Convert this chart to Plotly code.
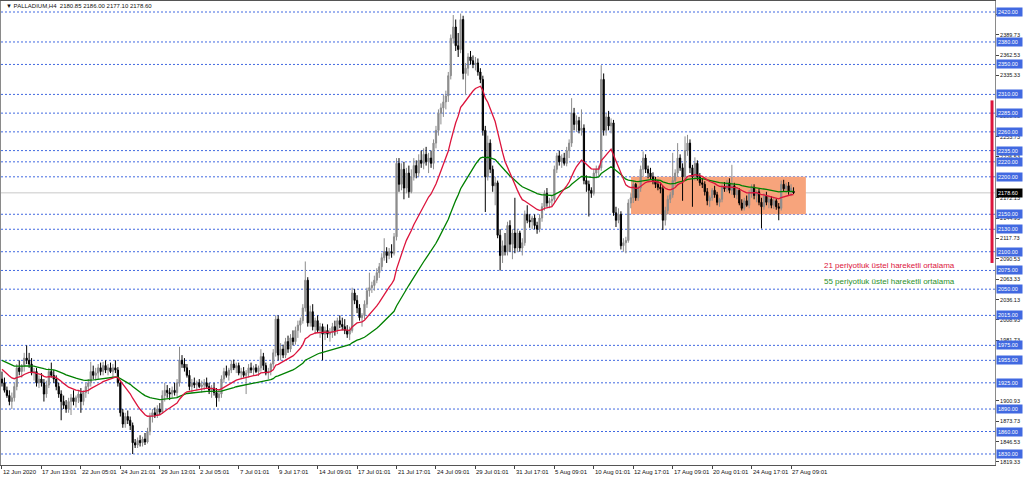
import plotly.graph_objects as go

# ---------------- data (PALLADIUM H4) ----------------
opens = [
1930,1925,1915,1908,1900,1905,1920,1945,1940,1948,
1958,1955,1950,1938,1940,1925,1930,1925,1910,1922,
1940,1935,1930,1920,1910,1900,1895,1890,1900,1905,
1900,1905,1910,1900,1912,1920,1925,1940,1935,1938,
1945,1940,1948,1942,1945,1940,1945,1942,1925,1885,
1870,1880,1875,1868,1845,1842,1848,1845,1850,1846,
1860,1880,1885,1882,1890,1886,1908,1915,1912,1910,
1915,1912,1925,1955,1950,1945,1935,1920,1925,1922,
1925,1920,1922,1925,1920,1915,1918,1912,1905,1910,
1930,1940,1935,1942,1950,1945,1948,1938,1940,1935,
1938,1945,1942,1945,1940,1945,1960,1948,1938,1940,
1950,1965,2010,1962,1970,1962,1980,1970,1985,1980,
1995,2002,2008,2025,2062,2005,2020,2000,2008,1995,
2000,1990,1995,1990,1992,2000,1995,2008,2003,2000,
1995,1990,1995,2045,2035,2025,2012,2015,2030,2048,
2052,2055,2062,2072,2080,2092,2100,2095,2100,2098,
2120,2218,2190,2210,2185,2205,2180,2200,2215,2205,
2222,2218,2230,2220,2225,2218,2245,2262,2285,2292,
2300,2308,2335,2385,2400,2375,2370,2410,2338,2345,
2360,2355,2350,2352,2340,2330,2262,2200,2245,2210,
2188,2192,2122,2095,2108,2100,2135,2110,2125,2105,
2125,2105,2112,2150,2142,2140,2145,2135,2130,2145,
2160,2178,2165,2168,2170,2210,2228,2220,2225,2218,
2235,2245,2285,2270,2275,2262,2265,2195,2190,2182,
2178,2205,2210,2212,2330,2262,2280,2268,2272,2152,
2142,2150,2108,2112,2115,2165,2172,2190,2172,2185,
2210,2225,2210,2205,2200,2195,2190,2186,2184,2142,
2155,2170,2176,2195,2205,2225,2212,2200,2235,2245,
2212,2200,2218,2200,2192,2190,2180,2168,2172,2182,
2176,2166,2170,2186,2184,2192,2182,2188,2176,2182,
2165,2158,2168,2162,2178,2186,2175,2180,2166,2160,
2174,2166,2170,2162,2168,2160,2158,2190,2184,2188,
2180,2180.85]

highs = [
1940,1932,1920,1915,1912,1925,1950,1955,1950,1965,
1975,1965,1958,1945,1945,1935,1938,1930,1928,1945,
1952,1942,1935,1925,1915,1908,1902,1905,1910,1915,
1908,1915,1918,1915,1925,1930,1953,1948,1945,1950,
1952,1953,1955,1950,1952,1950,1955,1946,1928,1890,
1885,1888,1880,1872,1850,1852,1855,1853,1858,1865,
1885,1890,1892,1895,1898,1915,1925,1922,1918,1920,
1925,1930,1973,1962,1958,1950,1942,1930,1932,1928,
1930,1928,1930,1932,1925,1922,1925,1918,1915,1935,
1945,1948,1945,1955,1956,1952,1952,1945,1946,1942,
1950,1952,1948,1950,1948,1970,1965,1952,1945,1952,
1970,2015,2015,1978,1976,1985,1988,1990,1995,2000,
2008,2012,2030,2087,2066,2028,2030,2012,2015,2005,
2004,2000,2003,1998,2005,2008,2012,2015,2012,2010,
2002,2000,2052,2050,2042,2030,2018,2035,2052,2072,
2060,2068,2078,2085,2098,2118,2106,2105,2110,2125,
2225,2225,2218,2220,2212,2215,2210,2225,2222,2230,
2235,2238,2240,2232,2235,2250,2268,2290,2298,2310,
2315,2340,2390,2416,2410,2392,2418,2415,2352,2365,
2368,2362,2360,2358,2345,2335,2268,2255,2250,2215,
2200,2195,2130,2115,2125,2140,2142,2130,2172,2130,
2128,2118,2155,2162,2150,2148,2150,2140,2150,2165,
2182,2185,2172,2175,2215,2232,2235,2230,2232,2240,
2250,2305,2292,2282,2280,2290,2270,2202,2195,2186,
2210,2215,2215,2349,2338,2285,2288,2278,2276,2160,
2158,2154,2118,2120,2170,2178,2195,2192,2188,2215,
2234,2230,2215,2212,2206,2200,2196,2192,2188,2160,
2175,2180,2232,2210,2245,2230,2218,2254,2256,2250,
2216,2226,2222,2205,2198,2194,2185,2175,2185,2188,
2180,2172,2190,2193,2196,2198,2216,2192,2186,2185,
2170,2172,2175,2182,2190,2190,2182,2184,2172,2178,
2180,2175,2174,2172,2171,2165,2195,2196,2192,2193,
2190,2186.00]

lows = [
1920,1912,1905,1895,1890,1900,1915,1935,1932,1940,
1950,1945,1935,1928,1920,1918,1920,1900,1905,1918,
1932,1925,1915,1905,1875,1890,1885,1885,1882,1895,
1892,1898,1885,1895,1905,1910,1920,1930,1928,1930,
1935,1935,1938,1935,1938,1932,1938,1920,1880,1865,
1865,1870,1862,1830,1838,1838,1840,1840,1842,1844,
1855,1872,1878,1878,1882,1884,1900,1905,1902,1905,
1908,1905,1920,1945,1940,1932,1915,1912,1918,1915,
1918,1912,1915,1918,1910,1905,1908,1893,1900,1905,
1925,1932,1928,1938,1942,1938,1935,1930,1932,1910,
1932,1938,1935,1938,1934,1940,1942,1935,1930,1935,
1945,1960,1955,1955,1958,1958,1965,1966,1975,1976,
1985,1992,2004,2020,2000,2000,1995,1990,1992,1985,
1955,1982,1985,1980,1985,1988,1990,1998,1995,1990,
1985,1982,1992,2030,2018,2008,2000,2010,2025,2040,
2045,2048,2058,2065,2075,2088,2085,2090,2092,2095,
2115,2180,2182,2170,2178,2172,2178,2195,2198,2200,
2212,2210,2215,2205,2212,2210,2238,2255,2270,2280,
2290,2300,2330,2378,2368,2360,2365,2330,2309,2335,
2350,2345,2342,2335,2325,2255,2153,2195,2205,2180,
2162,2118,2075,2085,2095,2095,2100,2090,2098,2100,
2100,2095,2108,2138,2132,2130,2130,2124,2126,2140,
2155,2160,2158,2160,2165,2205,2215,2212,2215,2214,
2225,2240,2262,2260,2258,2255,2190,2180,2147,2172,
2175,2198,2200,2208,2255,2255,2262,2258,2148,2133,
2138,2103,2100,2098,2112,2158,2165,2168,2168,2180,
2200,2205,2198,2196,2190,2185,2182,2178,2129,2135,
2150,2165,2172,2188,2200,2208,2168,2195,2228,2205,
2160,2195,2195,2188,2185,2175,2162,2160,2168,2172,
2162,2160,2166,2180,2180,2178,2176,2172,2170,2162,
2155,2155,2160,2158,2172,2170,2166,2162,2131,2156,
2162,2158,2158,2157,2156,2142,2155,2180,2178,2176,
2174,2177.10]

closes = [
1925,1915,1908,1900,1905,1920,1945,1940,1948,1958,
1955,1950,1938,1940,1925,1930,1925,1910,1922,1940,
1935,1930,1920,1910,1900,1895,1890,1900,1905,1900,
1905,1910,1900,1912,1920,1925,1940,1935,1938,1945,
1940,1948,1942,1945,1940,1945,1942,1925,1885,1870,
1880,1875,1868,1845,1842,1848,1845,1850,1846,1860,
1880,1885,1882,1890,1886,1908,1915,1912,1910,1915,
1912,1925,1955,1950,1945,1935,1920,1925,1922,1925,
1920,1922,1925,1920,1915,1918,1912,1905,1910,1930,
1940,1935,1942,1950,1945,1948,1938,1940,1935,1938,
1945,1942,1945,1940,1945,1960,1948,1938,1940,1950,
1965,2010,1962,1970,1962,1980,1970,1985,1980,1995,
2002,2008,2025,2062,2005,2020,2000,2008,1995,2000,
1990,1995,1990,1992,2000,1995,2008,2003,2000,1995,
1990,1995,2045,2035,2025,2012,2015,2030,2048,2052,
2055,2062,2072,2080,2092,2100,2095,2100,2098,2120,
2218,2190,2210,2185,2205,2180,2200,2215,2205,2222,
2218,2230,2220,2225,2218,2245,2262,2285,2292,2300,
2308,2335,2385,2400,2375,2370,2410,2338,2345,2360,
2355,2350,2352,2340,2330,2262,2200,2245,2210,2188,
2192,2122,2095,2108,2100,2135,2110,2125,2105,2125,
2105,2112,2150,2142,2140,2145,2135,2130,2145,2160,
2178,2165,2168,2170,2210,2228,2220,2225,2218,2235,
2245,2285,2270,2275,2262,2265,2195,2190,2182,2178,
2205,2210,2212,2330,2262,2280,2268,2272,2152,2142,
2150,2108,2112,2115,2165,2172,2190,2172,2185,2210,
2225,2210,2205,2200,2195,2190,2186,2184,2142,2155,
2170,2176,2195,2205,2225,2212,2200,2235,2245,2212,
2200,2218,2200,2192,2190,2180,2168,2172,2182,2176,
2166,2170,2186,2184,2192,2182,2188,2176,2182,2165,
2158,2168,2162,2178,2186,2175,2180,2166,2160,2174,
2166,2170,2162,2168,2160,2158,2190,2184,2188,2180,
2185,2178.60]

time_labels = ["12 Jun 2020", "17 Jun 13:01", "22 Jun 05:01", "24 Jun 21:01",
               "29 Jun 13:01", "2 Jul 05:01", "7 Jul 01:01", "9 Jul 17:01",
               "14 Jul 09:01", "17 Jul 01:01", "21 Jul 17:01", "24 Jul 09:01",
               "29 Jul 01:01", "31 Jul 17:01", "5 Aug 09:01", "10 Aug 01:01",
               "12 Aug 17:01", "17 Aug 09:01", "20 Aug 01:01", "24 Aug 17:01",
               "27 Aug 09:01"]
bars_per_label = 16

# automatic price scale labels (those not hidden behind level labels)
scale_ticks = [2416.93, 2389.73, 2362.53, 2335.33, 2280.93, 2253.73,
               2226.53, 2172.13, 2144.93, 2117.73, 2090.53, 2063.33,
               2036.13, 2008.93, 1981.73, 1900.93, 1873.73,
               1846.53, 1819.33]
# user horizontal levels
levels = [2420, 2380, 2350, 2310, 2285, 2260, 2235, 2220, 2200, 2150, 2130,
          2100, 2075, 2050, 2015, 1975, 1955, 1925, 1890, 1860, 1830]
bid_price = 2178.60
box_low, box_high = 2150, 2200
ema21_seed, ema55_seed = 1945, 1956
title_text = "\u25BC PALLADIUM,H4  2180.85 2186.00 2177.10 2178.60"
legend_21 = "21 periyotluk üstel hareketli ortalama"
legend_55 = "55 periyotluk üstel hareketli ortalama"

# ---------------- derived ----------------
n = len(closes)
xs = list(range(n))


def ema(values, period, seed):
    k = 2.0 / (period + 1)
    out, prev = [], seed
    for v in values:
        prev = prev + k * (v - prev)
        out.append(prev)
    return out


ema21 = ema(closes, 21, ema21_seed)
ema55 = ema(closes, 55, ema55_seed)

label_bars = [i * bars_per_label for i in range(len(time_labels))]

FONT = "Liberation Sans, Arial, sans-serif"
RED = "#DC143C"
GREEN = "#008000"
BLUE = "#4169E1"

fig = go.Figure()
fig.add_trace(go.Candlestick(
    x=xs, open=opens, high=highs, low=lows, close=closes,
    increasing=dict(line=dict(color="#8c8c8c", width=1), fillcolor="#8c8c8c"),
    decreasing=dict(line=dict(color="#000000", width=1), fillcolor="#000000"),
    whiskerwidth=0, hoverinfo="skip", showlegend=False))
fig.add_trace(go.Scatter(x=xs, y=ema55, mode="lines",
                         line=dict(color=GREEN, width=1.3), hoverinfo="skip"))
fig.add_trace(go.Scatter(x=xs, y=ema21, mode="lines",
                         line=dict(color=RED, width=1.3), hoverinfo="skip"))

shapes = []
# rectangle (drawn object)
shapes.append(dict(type="rect", xref="x", yref="y", x0=255.1, x1=326.0,
                   y0=box_low, y1=box_high, fillcolor="#F7A47C",
                   line=dict(width=0), layer="below"))
for lv in levels:
    shapes.append(dict(type="line", xref="paper", yref="y", x0=0, x1=1,
                       y0=lv, y1=lv, line=dict(color=BLUE, width=1, dash="2px,2px"),
                       layer="below"))
shapes.append(dict(type="line", xref="paper", yref="y", x0=0, x1=1,
                   y0=bid_price, y1=bid_price,
                   line=dict(color="#c8c8c8", width=1), layer="below"))
# red marker strip next to price scale
shapes.append(dict(type="rect", xref="paper", yref="y", x0=0.9955, x1=0.9985,
                   y0=2085, y1=2302, fillcolor=RED, line=dict(width=0)))

annotations = []
annotations.append(dict(xref="paper", yref="paper", x=0, y=1, xanchor="left",
                        yanchor="top", xshift=3, yshift=0, text=title_text,
                        showarrow=False, font=dict(family=FONT, size=6, color="#111")))
for b, t in zip(label_bars, time_labels):
    annotations.append(dict(xref="x", yref="paper", x=b, y=0, xanchor="left",
                            yanchor="top", xshift=-1, yshift=-2, text=t,
                            showarrow=False,
                            font=dict(family=FONT, size=6, color="#111")))
for lv in levels:
    annotations.append(dict(xref="paper", yref="y", x=1, y=lv, xanchor="left",
                            yanchor="middle", xshift=1, text=f"{lv:.2f}",
                            showarrow=False, bgcolor=BLUE, borderpad=1,
                            width=23, align="left",
                            font=dict(family=FONT, size=5.5, color="white")))
annotations.append(dict(xref="paper", yref="y", x=1, y=bid_price, xanchor="left",
                        yanchor="middle", xshift=1, text=f"{bid_price:.2f}",
                        showarrow=False, bgcolor="black", borderpad=1, width=23,
                        align="left",
                        font=dict(family=FONT, size=5.5, color="white")))
annotations.append(dict(xref="paper", yref="paper", x=0.826, y=(465 - 265) / 464,
                        xanchor="left", yanchor="middle", text=legend_21,
                        showarrow=False, font=dict(family=FONT, size=8, color=RED)))
annotations.append(dict(xref="paper", yref="paper", x=0.826, y=(465 - 281) / 464,
                        xanchor="left", yanchor="middle", text=legend_55,
                        showarrow=False, font=dict(family=FONT, size=8, color="#2a912a")))

fig.update_layout(
    width=1024, height=478,
    margin=dict(l=1, r=29, t=1, b=13),
    paper_bgcolor="white", plot_bgcolor="white",
    showlegend=False,
    shapes=shapes, annotations=annotations,
    xaxis=dict(range=[-0.4, 402.7], showgrid=False, zeroline=False,
               tickvals=label_bars, ticks="outside", ticklen=3,
               tickcolor="#444", showticklabels=False, showline=True,
               linecolor="#555", linewidth=1, mirror=True,
               rangeslider=dict(visible=False), fixedrange=True),
    yaxis=dict(range=[1815.3, 2434.7], side="right", showgrid=False,
               zeroline=False, tickvals=scale_ticks,
               ticktext=[f"{v:.2f}" for v in scale_ticks],
               ticks="outside", ticklen=3, tickcolor="#444",
               tickfont=dict(family=FONT, size=5.5, color="#111"),
               showline=True, linecolor="#8a8a8a", linewidth=1, mirror=True,
               fixedrange=True),
)

fig.write_html("out.html",
               config={"displayModeBar": False},
               post_script="document.body.style.margin='0px';"
                           "document.body.style.overflow='hidden';")
